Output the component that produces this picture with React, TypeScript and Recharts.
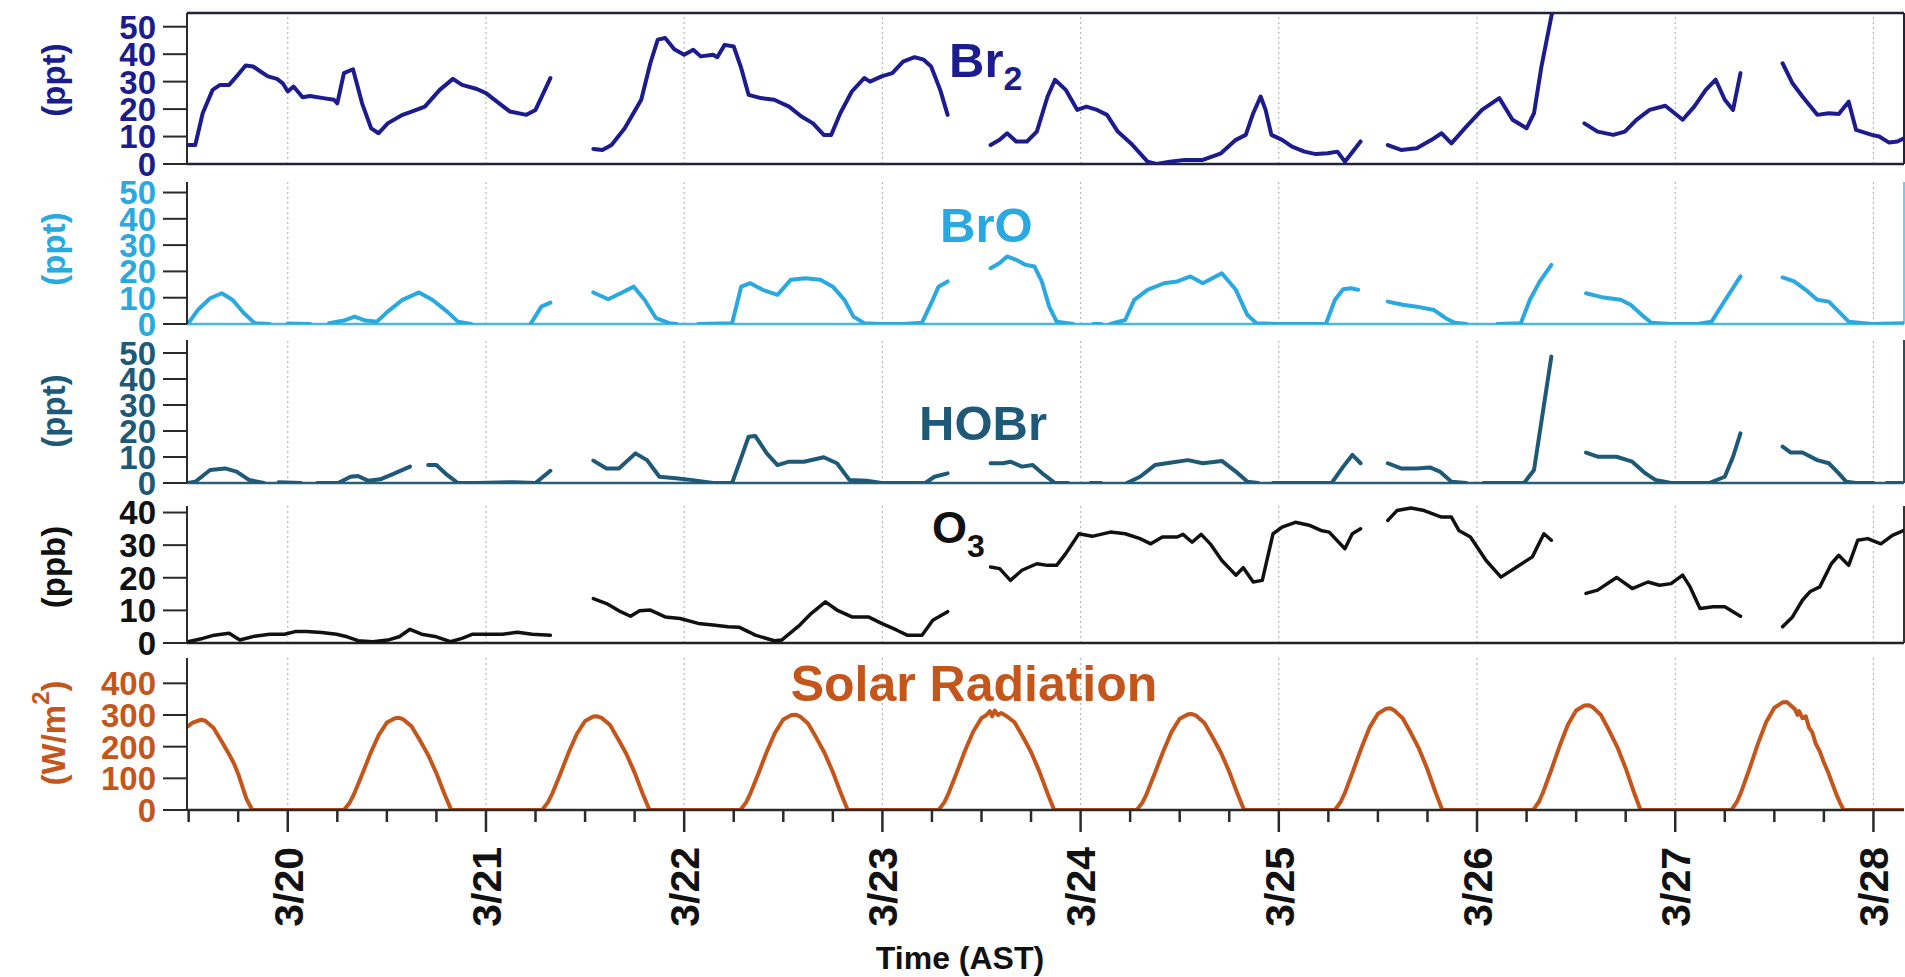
import React from 'react';
import { LineChart, Line, XAxis, YAxis, ReferenceLine } from 'recharts';

// time in hours since 3/19 00:00 AST
const XMIN = 11.8;
const XMAX = 219.7;
const DAY_TICKS = [24, 48, 72, 96, 120, 144, 168, 192, 216];
const DAY_LABELS = ['3/20', '3/21', '3/22', '3/23', '3/24', '3/25', '3/26', '3/27', '3/28'];
const SIX_HOUR_TICKS = [12, 18, 24, 30, 36, 42, 48, 54, 60, 66, 72, 78, 84, 90, 96, 102, 108, 114, 120, 126, 132, 138, 144, 150, 156, 162, 168, 174, 180, 186, 192, 198, 204, 210, 216];
const PPT_TICKS = [0, 10, 20, 30, 40, 50];
const PPB_TICKS = [0, 10, 20, 30, 40];
const SOLAR_TICKS = [0, 100, 200, 300, 400];

type Pt = [number, number | null];

const BR2: Pt[] = [
  [11.9, 6.9], [12.8, 6.9], [13.7, 18.5], [14.9, 27], [15.8, 28.8], [16.9, 28.8], [17.8, 31.9], [18.9, 35.9], [19.8, 35.5], [20.7, 33.7], [21.6, 31.9], [22.7, 31], [23.4, 29.4], [24, 26.4], [24.7, 28.2], [25.8, 24.3], [26.7, 24.8], [28.3, 24], [29.6, 23.4], [30, 22.1], [30.8, 33.1], [31.9, 34.5], [33, 22.1], [34.1, 13], [35, 11.2], [36.1, 14.8], [37.9, 17.9], [39, 19.1], [40.6, 20.9], [42.4, 27], [44, 31], [45.1, 28.8], [46.9, 27.3], [48, 25.8], [49.6, 22.1], [50.9, 19.1], [52.9, 17.9], [54, 19.7], [55.8, 31.3],
  [58, null],
  [61, 5.5], [62.1, 5.1], [63.2, 6.9], [64.8, 13], [66.8, 23.4], [67.9, 36.7], [68.8, 45.3], [69.7, 45.9], [70.8, 41.8], [72, 39.8], [73.1, 41.6], [74, 39.2], [75.5, 39.8], [76, 38.9], [76.9, 43.4], [78, 42.8], [78.9, 35], [79.8, 25.2], [81.3, 24], [82.9, 23.4], [84.7, 20.9], [86.2, 17.3], [87.6, 14.8], [88.9, 10.6], [89.8, 10.6], [90.9, 18.5], [92.3, 26.4], [93.8, 31.3], [94.5, 30], [95.9, 31.9], [97.2, 33.1], [98.5, 37.3], [99.9, 38.9], [101, 38], [101.9, 35.5], [103, 27], [103.9, 17.9],
  [106, null],
  [109.1, 6.9], [110.2, 8.8], [111.1, 11.2], [112.2, 8.2], [113.5, 8.2], [114.7, 11.8], [116, 24.6], [116.9, 30.7], [118.2, 27], [119.6, 19.7], [120.7, 20.9], [122, 19.7], [123.2, 17.9], [124.5, 11.8], [126.1, 7.5], [127.2, 3.9], [128.1, 0.85], [129.2, 0], [130.8, 0.85], [132.6, 1.5], [134.8, 1.5], [137, 3.9], [138.8, 8.8], [140, 10.6], [140.9, 18.5], [141.8, 24.6], [142.4, 19.7], [143.1, 10.6], [144.4, 8.8], [145.6, 6.3], [147.1, 4.5], [148.5, 3.6], [149.9, 3.9], [151.1, 4.5], [152, 0.85], [153.9, 8.2],
  [155.5, null],
  [157.2, 6.9], [158.8, 5.1], [160.7, 5.7], [162.5, 8.8], [163.7, 11.2], [164.9, 7.5], [166.7, 13.6], [168.6, 19.7], [170.7, 24], [172.3, 16.1], [174, 13], [174.9, 18.5], [175.8, 35.5], [177, 53.8], [177.3, 57],
  [179, null],
  [181, 14.8], [182.6, 11.8], [184.5, 10.6], [185.9, 11.8], [187.3, 16.1], [188.9, 19.7], [190.8, 21.2], [192.9, 16.1], [194.3, 20.9], [195.7, 27], [196.9, 30.7], [198, 23.4], [199, 19.7], [199.9, 33.1],
  [202.5, null],
  [205, 36.7], [206.2, 29.4], [207.4, 24.6], [209.2, 17.9], [210.6, 18.5], [211.8, 18.2], [213, 22.7], [213.9, 12.4], [215.8, 10.6], [216.7, 10], [217.9, 7.8], [218.9, 8.2], [219.7, 9.4],
];

const BRO: Pt[] = [
  [11.9, 0], [13.1, 5.3], [14.6, 9.8], [16, 11.7], [17.3, 9.2], [18.7, 4.1], [20, 0.3], [21.8, 0], [22.5, null], [24, 0.2], [26.7, 0], [27.5, null], [29, 0.3], [30.8, 1.3], [32.1, 2.8], [33.4, 1.3], [34.8, 0.9], [36.1, 4.7], [37.9, 9.2], [39.9, 12], [41.5, 9.2], [43.3, 4.7], [44.6, 0.9], [46.2, 0], [47, null], [53.4, 0], [54.7, 6.6], [55.8, 8.1],
  [58, null],
  [61, 12], [62.8, 9.4], [64.3, 11.7], [65.9, 14.2], [67.2, 9.2], [68.6, 2.2], [70.2, 0.3], [71.1, 0], [72, null], [73.7, 0], [77.8, 0.3], [78.9, 14.2], [80, 15.5], [81.5, 13], [83.3, 11.1], [84.9, 16.8], [86.7, 17.4], [88.5, 16.8], [90, 14.2], [91.4, 9.2], [92.5, 2.8], [93.8, 0.3], [95.9, 0], [98.5, 0], [100.8, 0.5], [102.1, 9.2], [102.8, 14.2], [103.9, 16.2],
  [106, null],
  [109.1, 21.2], [110.2, 23.2], [111.1, 25.7], [112.2, 24.4], [113.3, 22.5], [114.4, 21.9], [115.3, 16.2], [116.2, 6.6], [117.1, 0.9], [119.1, 0], [120, null], [121.5, 0], [122.5, 0], [123, null], [123.6, 0], [125.4, 1.5], [126.5, 9.2], [128.1, 13], [130.1, 15.5], [131.7, 16.2], [133.3, 18.1], [134.8, 15.5], [137.1, 19.3], [138.8, 13], [140.2, 3.4], [141.3, 0.3], [143.8, 0], [149.7, 0], [150.8, 9.2], [151.8, 13.2], [152.7, 13.6], [153.6, 13],
  [155.5, null],
  [157.2, 8.5], [159, 7.3], [160.7, 6.6], [162.8, 5.3], [164.2, 2.2], [165.3, 0.5], [166.7, 0], [167.5, null], [170.5, 0], [173.3, 0.3], [174.4, 9.2], [175.6, 16.2], [177, 22.5],
  [179, null],
  [181.2, 11.7], [183.1, 10.2], [185.4, 9.2], [186.6, 7.3], [188.2, 2.8], [189.1, 0.5], [191.5, 0], [194.7, 0], [196.4, 0.9], [197.8, 7.9], [199.9, 18.1],
  [202.5, null],
  [205, 17.7], [206.4, 16.2], [207.8, 13], [209.2, 9.2], [210.6, 8.5], [211.8, 4.7], [213, 0.9], [215.8, 0], [219.7, 0.3],
];

const HOBR: Pt[] = [
  [11.9, 0], [12.8, 0.5], [14.6, 5], [16.4, 5.6], [17.8, 4.4], [19.3, 1.2], [21.1, 0], [22, null], [22.9, 0.3], [25.6, 0], [26.5, null], [27.6, 0], [30.1, 0], [31.6, 2.4], [32.5, 2.7], [33.7, 0.9], [35.2, 1.4], [36.8, 3.5], [38.8, 6.3], [39.8, null], [41, 6.9], [42, 6.9], [43.3, 3.1], [44.6, 0], [46.9, 0], [51.4, 0.3], [54, 0], [55.8, 4.7],
  [58, null],
  [61, 8.6], [62.6, 5.6], [64.1, 5.6], [66.1, 11.4], [67.5, 8.8], [69, 2.4], [71, 1.8], [72.8, 1.2], [75.5, 0], [77.8, 0], [78.8, 8.8], [79.8, 17.8], [80.6, 18.1], [82, 11.4], [83.3, 6.9], [84.7, 8.2], [86.5, 8.2], [88.9, 9.9], [90.5, 7.6], [92, 1.2], [94.1, 0.9], [95.9, 0], [101.2, 0], [102.3, 2.4], [103.9, 3.7],
  [106, null],
  [109.1, 7.6], [110.6, 7.6], [111.5, 8.2], [112.9, 6.3], [114.2, 6.9], [115.6, 3.1], [116.9, 0], [118.5, 0], [119.5, null], [121.2, 0], [122.5, 0], [123.5, null], [125.6, 0], [127.2, 2.4], [129, 6.9], [130.8, 7.8], [133, 8.8], [134.8, 7.6], [137.1, 8.5], [138.8, 4.4], [140.2, 0.5], [141.5, 0], [142.3, null], [143.3, 0], [145.1, 0], [148, 0], [150.4, 0], [151.8, 6.3], [152.9, 10.8], [153.9, 7.6],
  [155.5, null],
  [157.2, 7.6], [158.8, 5.6], [160.7, 5.6], [162.3, 6], [163.5, 4.4], [164.9, 0.5], [166.7, 0], [167.7, null], [168.8, 0], [173.7, 0], [174.9, 5], [177, 48.6],
  [179, null],
  [181.2, 11.7], [182.6, 10.1], [184.9, 10.1], [186.8, 8.2], [188.4, 3.7], [189.6, 1.2], [191.5, 0], [196.1, 0], [198, 2.4], [199, 10.1], [199.9, 19.1],
  [202.5, null],
  [205, 14], [206, 11.7], [207.4, 11.7], [209.2, 8.8], [210.6, 7.6], [211.8, 3.7], [212.7, 0.5], [213.9, 0], [216, 0], [216.8, null], [217.6, 0], [219.5, 0],
];

const O3: Pt[] = [
  [11.9, 0.4], [13.7, 1.4], [15.1, 2.4], [16.9, 3], [18.2, 0.9], [20, 2.1], [21.8, 2.7], [23.6, 2.7], [24.9, 3.5], [26.3, 3.5], [28.1, 3.2], [29.9, 2.7], [31.2, 1.9], [32.5, 0.7], [34.3, 0.4], [36.1, 0.9], [37.5, 1.9], [38.8, 4.2], [40.2, 2.7], [42, 1.9], [43.7, 0.4], [45.1, 1.4], [46.4, 2.7], [48.2, 2.7], [50, 2.7], [51.8, 3.3], [53.6, 2.7], [55.8, 2.4],
  [58, null],
  [61, 13.6], [62.6, 12.1], [64.3, 9.6], [65.5, 8.2], [66.6, 9.9], [67.9, 10.1], [69.7, 8], [71.5, 7.5], [73.7, 6], [75.5, 5.5], [77.3, 5], [78.7, 4.8], [80, 3.2], [80.6, 2.4], [82.9, 0.7], [83.8, 0.9], [86, 5.5], [87.4, 9.1], [89.1, 12.6], [90.5, 10.1], [92.3, 8], [94.3, 8], [95.9, 6], [97.7, 4], [99, 2.4], [100.8, 2.4], [102.1, 7], [103.9, 9.6],
  [106, null],
  [109.1, 23.3], [110.2, 22.8], [111.5, 19.2], [112.9, 22.3], [114.7, 24.3], [116, 23.8], [117.1, 23.8], [118.2, 27.4], [119.8, 33.5], [121.4, 32.7], [123.6, 34], [125.4, 33.5], [127.2, 32], [128.5, 30.4], [129.9, 32.5], [131.7, 32.5], [132.4, 33.3], [133.5, 30.9], [134.6, 33.3], [135.7, 30.4], [137.1, 25.3], [138.8, 20.8], [139.7, 23.1], [140.9, 18.7], [142, 19.2], [143.3, 33.5], [144.4, 35.5], [146, 37], [147.8, 36], [149.1, 34.5], [150.1, 34], [152, 28.9], [152.9, 33.5], [153.9, 35],
  [155.5, null],
  [157.2, 37.6], [158.3, 40.6], [160, 41.4], [161.6, 40.6], [163.7, 38.6], [164.9, 38.6], [165.8, 34.5], [167.2, 32.5], [169.1, 25.3], [170.9, 20.2], [172.8, 23.3], [174.7, 26.4], [176.1, 33.5], [177, 31.5],
  [179, null],
  [181.2, 15.2], [182.6, 16.2], [184.9, 20.1], [186.8, 16.7], [188.7, 18.7], [190.1, 17.7], [191.5, 18.2], [192.9, 20.8], [193.8, 17.2], [195, 10.6], [196.6, 11.1], [198, 11.1], [199.9, 8.2],
  [202.5, null],
  [205, 5], [206.2, 8], [207.4, 13.1], [208.3, 15.7], [209.5, 17.2], [210.9, 24.3], [211.8, 26.9], [213, 23.8], [214.1, 31.5], [215.3, 32], [216.9, 30.4], [218.3, 33], [219.7, 34.5],
];

const SOLAR: Pt[] = [
  [11.8, 262], [12.5, 276], [13.5, 285], [14, 282], [15, 260], [16, 216], [17, 171], [17.5, 146], [18, 114], [19, 35], [19.7, 0],
  [30.8, 0], [31.5, 23], [32, 49], [33, 112], [34, 178], [35, 236], [36, 276], [37, 290], [37.5, 291], [38, 286], [39, 264], [40, 220], [41, 174], [42, 116], [43, 49], [43.8, 0],
  [54.8, 0], [55.5, 24], [56, 50], [57, 114], [58, 181], [59, 240], [60, 281], [61, 295], [61.5, 296], [62, 291], [63, 269], [64, 224], [65, 177], [66, 118], [67, 50], [67.8, 0],
  [78.8, 0], [79.5, 24], [80, 51], [81, 116], [82, 184], [83, 244], [84, 286], [85, 300], [85.5, 301], [86, 296], [87, 273], [88, 228], [89, 180], [90, 120], [91, 51], [91.8, 0],
  [102.8, 0], [103.5, 24], [104, 52], [105, 118], [106, 187], [107, 248], [108, 290], [108.6, 300], [109, 312], [109.3, 296], [109.6, 314], [110, 300], [110.4, 306], [111, 297], [112, 277], [113, 232], [114, 183], [115, 122], [116, 52], [116.8, 0],
  [126.8, 0], [127.5, 24], [128, 51], [129, 117], [130, 185], [131, 246], [132, 288], [133, 302], [133.5, 303], [134, 298], [135, 275], [136, 229], [137, 181], [138, 121], [139, 51], [139.8, 0],
  [150.8, 0], [151.5, 26], [152, 54], [153, 124], [154, 196], [155, 261], [156, 304], [157, 320], [157.5, 321], [158, 314], [158.5, 302], [159, 290], [160, 243], [161, 192], [162, 128], [163, 54], [163.8, 0],
  [174.8, 0], [175.5, 26], [176, 56], [177, 127], [178, 202], [179, 269], [180, 314], [181, 330], [181.5, 331], [182, 325], [183, 300], [184, 251], [185, 198], [186, 132], [187, 56], [187.8, 0],
  [198.8, 0], [199.5, 27], [200, 58], [201, 131], [202, 208], [203, 277], [204, 323], [205, 340], [205.5, 341], [206, 330], [206.5, 318], [206.8, 300], [207, 312], [207.4, 290], [207.8, 296], [208.2, 260], [208.6, 245], [209, 210], [209.5, 185], [210, 150], [210.5, 120], [211, 85], [211.5, 50], [212, 20], [212.4, 0],
  [219.7, 0],
];

const toData = (pts: Pt[]) => pts.map(([t, v]) => ({ t, v }));

const FONT = "'Liberation Sans', Arial, Helvetica, sans-serif";

const C_BR2 = '#1c1c8e';
const C_BRO = '#2aa8e0';
const C_HOBR = '#1e5a78';
const C_O3 = '#111111';
const C_SOLAR = '#c4561b';
const AXIS = '#2a2a2a';

const XTick = (props: any) => {
  const { x, y, payload } = props;
  const idx = DAY_TICKS.indexOf(payload.value);
  const major = idx >= 0;
  return (
    <g>
      <line x1={x} x2={x} y1={y} y2={y + (major ? 22 : 12)} stroke={AXIS} strokeWidth={2.5} />
      {major && (
        <text
          transform={`translate(${x},${y + 37}) rotate(-90)`}
          textAnchor="end"
          dy="0.36em"
          fontSize={41}
          fontWeight={700}
          fill="#111"
          fontFamily={FONT}
        >
          {DAY_LABELS[idx]}
        </text>
      )}
    </g>
  );
};

const makeYTick = (color: string) => (props: any) => {
  const { x, y, payload } = props;
  return (
    <g>
      <line x1={x - 24} x2={x} y1={y} y2={y} stroke={AXIS} strokeWidth={2} />
      <text
        x={x - 31}
        y={y}
        dy="0.36em"
        textAnchor="end"
        fontSize={33}
        fontWeight={700}
        fill={color}
        fontFamily={FONT}
      >
        {payload.value}
      </text>
    </g>
  );
};

type PanelProps = {
  top: number;
  height: number;
  mt: number;
  mb: number;
  pts: Pt[];
  color: string;
  tickColor: string;
  domainMax: number;
  yTicks: number[];
  strokeWidth: number;
  baseColor?: string;
  rightColor?: string;
  frameTop?: boolean;
  axisTitle: React.ReactNode;
  panelTitle: React.ReactNode;
  showX?: boolean;
};

function Panel(p: PanelProps) {
  return (
    <div style={{ position: 'absolute', left: 0, top: p.top }}>
      <LineChart
        width={1905}
        height={p.height}
        data={toData(p.pts)}
        margin={{ top: p.mt, right: 1, bottom: p.mb, left: 107 }}
      >
        <XAxis
          dataKey="t"
          type="number"
          domain={[XMIN, XMAX]}
          allowDataOverflow
          hide={!p.showX}
          ticks={SIX_HOUR_TICKS}
          interval={0}
          tickSize={0}
          tickMargin={0}
          tickLine={false}
          tick={<XTick />}
          height={p.showX ? 120 : 0}
          axisLine={{ stroke: AXIS, strokeWidth: 2.5 }}
          label={
            p.showX
              ? () => (
                  <text x={960} y={319} textAnchor="middle" fontSize={32} fontWeight={700} fill="#111" fontFamily={FONT}>
                    Time (AST)
                  </text>
                )
              : undefined
          }
        />
        <YAxis
          type="number"
          domain={[0, p.domainMax]}
          allowDataOverflow
          ticks={p.yTicks}
          interval={0}
          width={80}
          tickSize={0}
          tickMargin={0}
          tickLine={false}
          axisLine={{ stroke: AXIS, strokeWidth: 2 }}
          tick={makeYTick(p.tickColor)}
          label={() => (
            <g>
              {p.axisTitle}
              {p.panelTitle}
            </g>
          )}
        />
        {DAY_TICKS.map((d) => (
          <ReferenceLine key={d} x={d} stroke="#b8b8b8" strokeWidth={1.2} strokeDasharray="2 3" />
        ))}
        {p.baseColor && <ReferenceLine y={0} stroke={p.baseColor} strokeWidth={2.5} />}
        {p.frameTop && <ReferenceLine y={p.domainMax} stroke="#22223a" strokeWidth={2.5} />}
        {p.rightColor && <ReferenceLine x={XMAX} stroke={p.rightColor} strokeWidth={2} />}
        <Line
          type="linear"
          dataKey="v"
          stroke={p.color}
          strokeWidth={p.strokeWidth}
          strokeLinejoin="round"
          strokeLinecap="round"
          dot={false}
          activeDot={false}
          isAnimationActive={false}
          connectNulls={false}
        />
      </LineChart>
    </div>
  );
}

const yTitle = (cy: number, color: string, content: React.ReactNode) => (
  <text
    transform={`translate(53,${cy}) rotate(-90)`}
    textAnchor="middle"
    dy="0.35em"
    fontSize={33}
    fontWeight={700}
    fill={color}
    fontFamily={FONT}
  >
    {content}
  </text>
);

export default function App() {
  return (
    <div
      style={{
        position: 'absolute',
        left: 0,
        top: 0,
        width: 1905,
        height: 977,
        background: '#ffffff',
        fontFamily: FONT,
        fontWeight: 700,
        overflow: 'hidden',
      }}
    >
      <Panel
        top={0}
        height={194}
        mt={13}
        mb={30}
        pts={BR2}
        color={C_BR2}
        tickColor={C_BR2}
        domainMax={55}
        yTicks={PPT_TICKS}
        strokeWidth={4}
        baseColor="#22223a"
        rightColor="#22223a"
        frameTop
        axisTitle={yTitle(80, C_BR2, '(ppt)')}
        panelTitle={
          <text x={949} y={77} fontSize={49} fontWeight={700} fill={C_BR2} fontFamily={FONT}>
            Br
            <tspan fontSize={34} dy={13}>2</tspan>
          </text>
        }
      />
      <Panel
        top={170}
        height={184}
        mt={12}
        mb={30}
        pts={BRO}
        color={C_BRO}
        tickColor={C_BRO}
        domainMax={54}
        yTicks={PPT_TICKS}
        strokeWidth={4}
        baseColor="#4bb6e6"
        rightColor="#7cc8ec"
        axisTitle={yTitle(79, C_BRO, '(ppt)')}
        panelTitle={
          <text x={940} y={72} fontSize={49} fontWeight={700} fill={C_BRO} fontFamily={FONT}>
            BrO
          </text>
        }
      />
      <Panel
        top={330}
        height={184}
        mt={10}
        mb={31}
        pts={HOBR}
        color={C_HOBR}
        tickColor={C_HOBR}
        domainMax={55}
        yTicks={PPT_TICKS}
        strokeWidth={4}
        baseColor="#2a5f78"
        rightColor="#2a4f60"
        axisTitle={yTitle(81, C_HOBR, '(ppt)')}
        panelTitle={
          <text x={919} y={110} fontSize={49} fontWeight={700} fill={C_HOBR} fontFamily={FONT}>
            HOBr
          </text>
        }
      />
      <Panel
        top={490}
        height={184}
        mt={16}
        mb={31}
        pts={O3}
        color={C_O3}
        tickColor={C_O3}
        domainMax={42}
        yTicks={PPB_TICKS}
        strokeWidth={3.5}
        baseColor="#222"
        rightColor="#333"
        axisTitle={yTitle(77, C_O3, '(ppb)')}
        panelTitle={
          <text x={932} y={53} fontSize={45} fontWeight={700} fill={C_O3} fontFamily={FONT}>
            O
            <tspan fontSize={32} dy={14}>3</tspan>
          </text>
        }
      />
      <Panel
        top={650}
        height={327}
        mt={8}
        mb={47}
        pts={SOLAR}
        color={C_SOLAR}
        tickColor={C_SOLAR}
        domainMax={480}
        yTicks={SOLAR_TICKS}
        strokeWidth={4}
        showX
        axisTitle={yTitle(
          83,
          C_SOLAR,
          <>
            (W/m
            <tspan fontSize={24} dy={-16}>2</tspan>
            <tspan dy={16}>)</tspan>
          </>
        )}
        panelTitle={
          <text x={974} y={51} textAnchor="middle" fontSize={50} fontWeight={700} fill={C_SOLAR} fontFamily={FONT}>
            Solar Radiation
          </text>
        }
      />
    </div>
  );
}
